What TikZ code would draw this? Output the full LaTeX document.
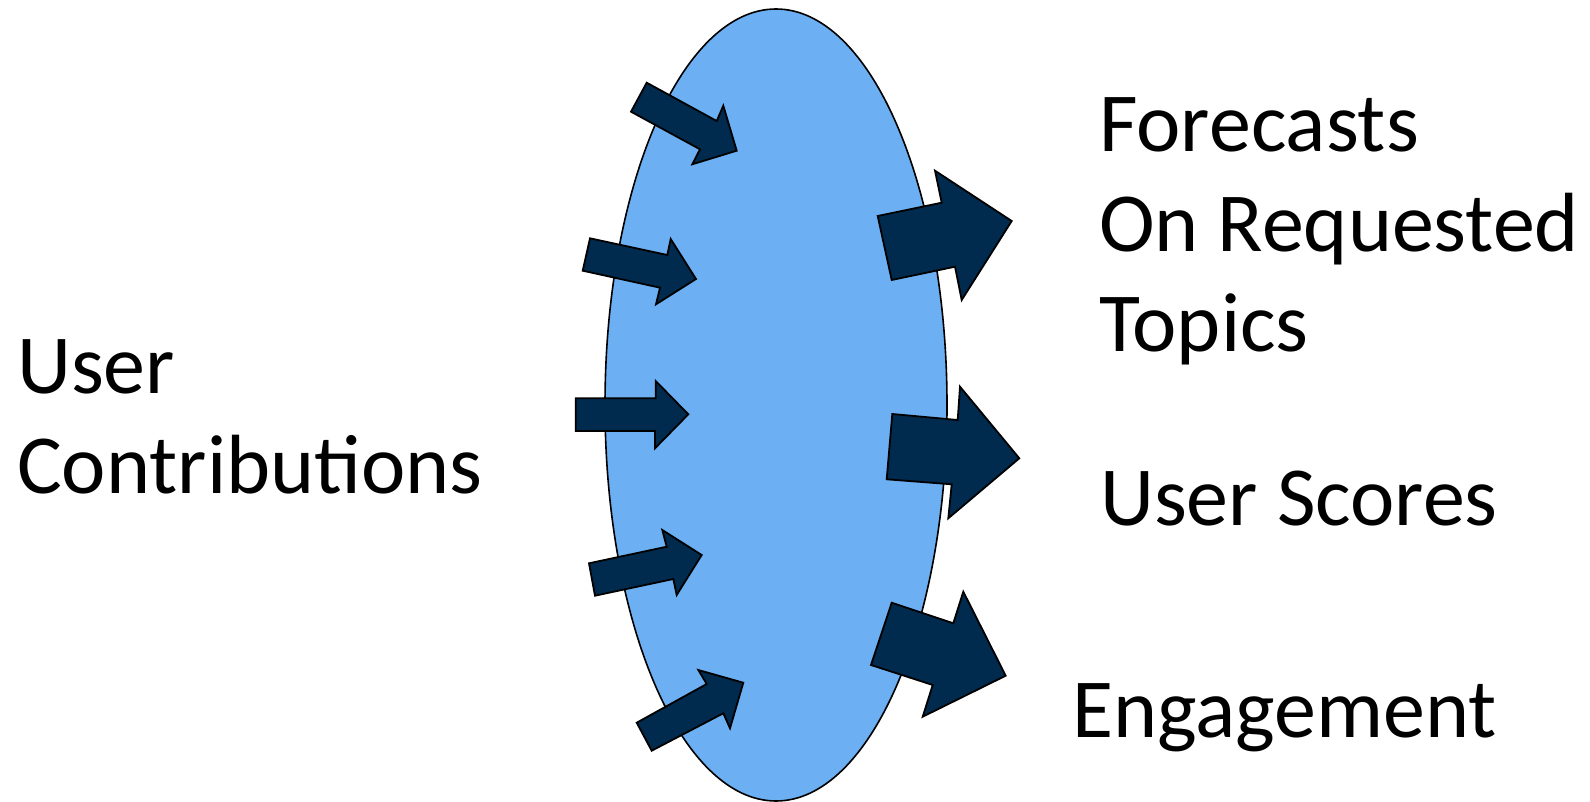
\documentclass[tikz,border=0pt]{standalone}
\usepackage{fontspec}
\setmainfont{Carlito}
\usetikzlibrary{shapes.geometric}
\definecolor{blobblue}{HTML}{6CB0F3}
\definecolor{navy}{HTML}{002B4E}
\begin{document}
\begin{tikzpicture}[x=1pt,y=-1pt,
  blob/.style={draw=black,line width=1.6pt,fill=blobblue},
  arrowshape/.style={draw=black,line width=1.8pt,fill=navy,line join=miter},
  label/.style={inner sep=0pt,anchor=base west,align=left,
    font=\fontsize{84}{100}\selectfont}]
  \useasboundingbox (0,0) rectangle (1590,802);

  % central blob
  \node[blob,ellipse,minimum width=342pt,minimum height=792pt,inner sep=0pt] (core) at (776,405) {};

  % incoming arrows on the left rim
  \draw[arrowshape] (646.7,82.7) -- (716.7,121) -- (723.3,105.7) -- (736.7,150.7)
    -- (692.3,164.3) -- (700,149.3) -- (631,111.7) -- cycle;
  \draw[arrowshape] (590,238.3) -- (667.3,255) -- (670.7,239) -- (696,279)
    -- (656,304.3) -- (660,287.7) -- (582.7,270.7) -- cycle;
  \draw[arrowshape] (575.7,398.3) -- (655.7,398.3) -- (655.7,381) -- (688.3,414.3)
    -- (655,448.3) -- (655,431) -- (575.7,431) -- cycle;
  \draw[arrowshape] (589,563.3) -- (666.7,546.7) -- (662.3,530) -- (701.7,555)
    -- (676.7,595) -- (673.3,579) -- (595,595.7) -- cycle;
  \draw[arrowshape] (636.7,722.7) -- (706.7,684) -- (698.3,670) -- (743.3,682.7)
    -- (730,728.3) -- (723.3,713.3) -- (651.7,750.7) -- cycle;

  % outgoing arrows on the right rim
  \draw[arrowshape] (877.7,216) -- (941.7,202.7) -- (935,170.7) -- (1011.7,221)
    -- (961.7,300) -- (955,266.7) -- (891.7,280) -- cycle;
  \draw[arrowshape] (892.3,414) -- (957.7,420) -- (960,386.7) -- (1019.3,458.3)
    -- (948.3,518.3) -- (951.7,484.3) -- (886.7,479.3) -- cycle;
  \draw[arrowshape] (891.7,602.7) -- (953.3,623.3) -- (963.3,591.7) -- (1005.7,675.7)
    -- (922.7,716.7) -- (932.7,685) -- (871,665) -- cycle;

  % labels (base anchor sits on the last line)
  \node[label] (contrib) at (17,493) {User\\Contributions};
  \node[label] (forecasts) at (1099,351) {Forecasts\\On Requested\\Topics};
  \node[label] (scores) at (1100,525) {User Scores};
  \node[label] (engage) at (1072,737) {Engagement};
\end{tikzpicture}
\end{document}
